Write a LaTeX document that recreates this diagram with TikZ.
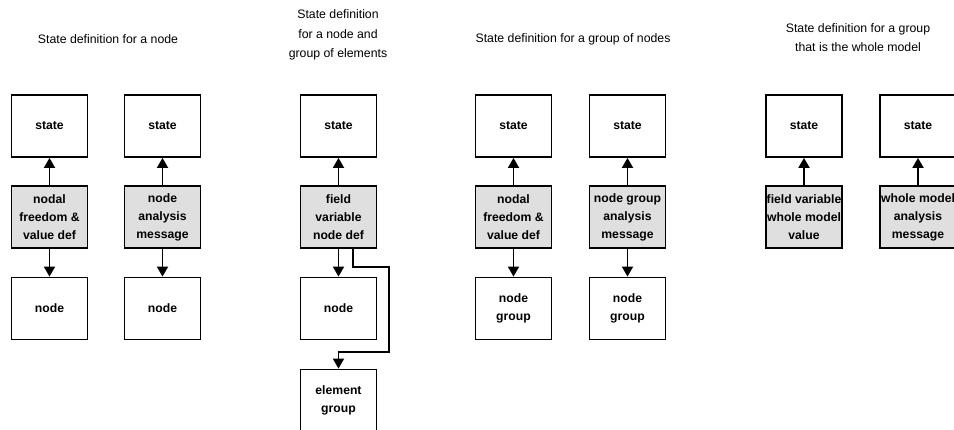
\documentclass[tikz,border=0pt]{standalone}
\usepackage{fontspec}
\setmainfont{Liberation Sans}
\usetikzlibrary{arrows.meta}
\begin{document}
\begin{tikzpicture}[x=1pt,y=-1pt,
  box/.style={draw=black,line width=1.8pt,minimum width=76pt,minimum height=62pt,inner sep=0pt,align=center,font=\bfseries\fontsize{12.2}{18}\selectfont,fill=white},
  gbox/.style={box,fill=gray!25},
  ttl/.style={align=center,font=\fontsize{12.3}{19.5}\selectfont,inner sep=0pt},
  arr/.style={line width=1.8pt,-{Triangle[width=11pt,length=10pt]}}
]
\useasboundingbox (0,0) rectangle (954,430);
% titles
\node[ttl] (t1) at (108,39) {State definition for a node};
\node[ttl] (t2) at (338,35) {State definition\\for a node and\\group of elements};
\node[ttl] (t3) at (573,39) {State definition for a group of nodes};
\node[ttl] (t4) at (858,37.5) {State definition for a group\\that is the whole model};
% column 1
\node[box]  (s1) at (49.5,126) {state};
\node[gbox] (f1) at (49.5,217) {nodal\\freedom \&\\value def};
\node[box]  (n1) at (49.5,308.5) {node};
% column 2
\node[box]  (s2) at (162.5,126) {state};
\node[gbox] (f2) at (162.5,217) {node\\analysis\\message};
\node[box]  (n2) at (162.5,308.5) {node};
% column 3
\node[box]  (s3) at (338.5,126) {state};
\node[gbox] (f3) at (338.5,217) {field\\variable\\node def};
\node[box]  (n3) at (338.5,308.5) {node};
\node[box]  (eg) at (338.5,400.5) {element\\group};
% column 4
\node[box]  (s4) at (513.5,126) {state};
\node[gbox] (f4) at (513.5,217) {nodal\\freedom \&\\value def};
\node[box]  (n4) at (513.5,308.5) {node\\group};
% column 5
\node[box]  (s5) at (627.5,126) {state};
\node[gbox] (f5) at (627.5,217) {node group\\analysis\\message};
\node[box]  (n5) at (627.5,308.5) {node\\group};
% column 6
\node[box]  (s6) at (804,126) {state};
\node[gbox] (f6) at (804,217) {field variable\\whole model\\value};
% column 7
\node[box]  (s7) at (918,126) {state};
\node[gbox] (f7) at (918,217) {whole model\\analysis\\message};
% connectors
\foreach \i in {1,...,7} {\draw[arr] (f\i.north) -- (s\i.south);}
\foreach \i in {1,...,5} {\draw[arr] (f\i.south) -- (n\i.north);}
\coordinate (k1) at (389,267);
\coordinate (k2) at (389,352);
\draw[arr] ([xshift=14.5pt]f3.south) |- (k1) -- (k2) -| (eg.north);
\end{tikzpicture}
\end{document}
